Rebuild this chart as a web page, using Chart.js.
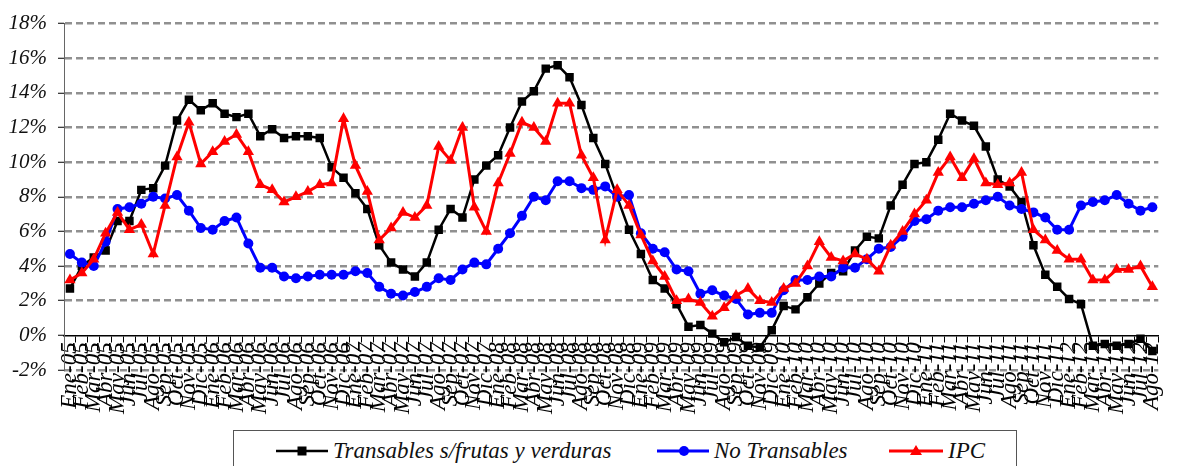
<!DOCTYPE html>
<html>
<head>
<meta charset="utf-8">
<script src="https://cdn.jsdelivr.net/npm/chart.js@4.4.0/dist/chart.umd.min.js"></script>
<style>
  html, body { margin: 0; padding: 0; background: #fff; overflow: hidden; }
  #wrap { position: relative; width: 1181px; height: 466px; }
  #legend {
    position: absolute; left: 233px; top: 430px; width: 782px; height: 60px;
    border: 1.5px solid #555; background: #fff;
    font: italic 23px "Liberation Serif", serif; color: #111;
  }
  .item { position: absolute; top: 4px; height: 32px; display: flex; align-items: center; }
  .item span { margin-left: 5px; white-space: nowrap; }
</style>
</head>
<body>
<div id="wrap">
  <canvas id="chart"></canvas>
  <div id="legend">
    <div class="item" style="left:42px">
      <svg width="52" height="20"><line x1="0" y1="10" x2="52" y2="10" stroke="#000" stroke-width="2.5"/><rect x="21.5" y="5.5" width="9" height="9" fill="#000"/></svg>
      <span>Transables s/frutas y verduras</span>
    </div>
    <div class="item" style="left:423px">
      <svg width="52" height="20"><line x1="0" y1="10" x2="52" y2="10" stroke="#0000ff" stroke-width="3"/><circle cx="27" cy="10" r="5" fill="#0000ff"/></svg>
      <span>No Transables</span>
    </div>
    <div class="item" style="left:655px">
      <svg width="54" height="20"><line x1="0" y1="10" x2="54" y2="10" stroke="#ff0000" stroke-width="3"/><polygon points="27,4 33,14 21,14" fill="#ff0000"/></svg>
      <span>IPC</span>
    </div>
  </div>
</div>
<script>
// meses Ene-05 .. Ago-12
const months = ['Ene','Feb','Mar','Abr','May','Jun','Jul','Ago','Sep','Oct','Nov','Dic'];
const years = ['05','06','07','08','09','10','11','12'];
const lastYearMonths = 8;

const categories = [];
years.forEach((y, k) => {
  months.forEach((m, j) => {
    if (k < years.length - 1 || j < lastYearMonths) categories.push(m + '-' + y);
  });
});

const transables = [2.7, 4.0, 4.5, 4.9, 6.6, 6.6, 8.4, 8.5, 9.8, 12.4,
  13.6, 13.0, 13.4, 12.8, 12.6, 12.8, 11.5, 11.9, 11.4, 11.5,
  11.5, 11.4, 9.7, 9.1, 8.2, 7.3, 5.2, 4.2, 3.8, 3.4,
  4.2, 6.1, 7.3, 6.8, 9.0, 9.8, 10.4, 12.0, 13.5, 14.1,
  15.4, 15.6, 14.9, 13.3, 11.4, 9.9, 8.0, 6.1, 4.7, 3.2,
  2.7, 1.8, 0.5, 0.6, 0.1, -0.4, -0.1, -0.6, -0.7, 0.3,
  1.7, 1.5, 2.2, 3.0, 3.6, 3.7, 4.9, 5.7, 5.6, 7.5,
  8.7, 9.9, 10.0, 11.3, 12.8, 12.4, 12.1, 10.9, 9.0, 8.6,
  7.7, 5.2, 3.5, 2.8, 2.1, 1.8, -0.6, -0.5, -0.6, -0.5,
  -0.2, -0.9];

const noTransables = [4.7, 4.2, 4.0, 5.4, 7.3, 7.4, 7.6, 8.0, 7.9, 8.1,
  7.2, 6.2, 6.1, 6.6, 6.8, 5.3, 3.9, 3.9, 3.4, 3.3,
  3.4, 3.5, 3.5, 3.5, 3.7, 3.6, 2.8, 2.4, 2.3, 2.5,
  2.8, 3.3, 3.2, 3.8, 4.2, 4.1, 5.0, 5.9, 6.9, 8.0,
  7.8, 8.9, 8.9, 8.5, 8.4, 8.6, 8.0, 8.1, 5.9, 5.0,
  4.8, 3.8, 3.7, 2.4, 2.6, 2.3, 2.1, 1.2, 1.3, 1.3,
  2.6, 3.2, 3.2, 3.4, 3.4, 3.9, 3.9, 4.4, 5.0, 5.1,
  5.7, 6.6, 6.7, 7.2, 7.4, 7.4, 7.6, 7.8, 8.0, 7.5,
  7.3, 7.1, 6.8, 6.1, 6.1, 7.5, 7.7, 7.8, 8.1, 7.6,
  7.2, 7.4];

const ipc = [3.2, 3.6, 4.4, 5.9, 7.1, 6.1, 6.4, 4.7, 7.5, 10.3,
  12.3, 9.9, 10.6, 11.2, 11.6, 10.6, 8.7, 8.4, 7.7, 8.0,
  8.3, 8.7, 8.8, 12.5, 9.8, 8.3, 5.5, 6.2, 7.1, 6.8,
  7.5, 10.9, 10.1, 12.0, 7.4, 6.0, 8.8, 10.5, 12.3, 12.0,
  11.2, 13.4, 13.4, 10.4, 9.1, 5.5, 8.4, 7.5, 5.8, 4.3,
  3.4, 2.0, 2.1, 1.9, 1.1, 1.6, 2.3, 2.7, 2.0, 1.9,
  2.7, 3.0, 4.0, 5.4, 4.5, 4.3, 4.7, 4.4, 3.7, 5.2,
  6.0, 7.0, 7.8, 9.4, 10.3, 9.1, 10.2, 8.8, 8.7, 8.8,
  9.4, 6.1, 5.5, 4.9, 4.4, 4.4, 3.2, 3.2, 3.8, 3.8,
  4.0, 2.8];

const yMin = -2, yMax = 18, yStep = 2;

const labelFont = { family: '"Liberation Serif", serif', style: 'italic', size: 21 };

new Chart(document.getElementById('chart'), {
  type: 'line',
  data: {
    labels: categories,
    datasets: [
      {
        label: 'Transables s/frutas y verduras',
        data: transables,
        borderColor: '#000', backgroundColor: '#000',
        borderWidth: 2.5, pointStyle: 'rect', pointRadius: 6, pointBorderWidth: 0,
        order: 3
      },
      {
        label: 'No Transables',
        data: noTransables,
        borderColor: '#0000ff', backgroundColor: '#0000ff',
        borderWidth: 3, pointStyle: 'circle', pointRadius: 5, pointBorderWidth: 0,
        order: 2
      },
      {
        label: 'IPC',
        data: ipc,
        borderColor: '#ff0000', backgroundColor: '#ff0000',
        borderWidth: 3, pointStyle: 'triangle', pointRadius: 6.5, pointBorderWidth: 0,
        order: 1
      }
    ]
  },
  options: {
    responsive: true, maintainAspectRatio: false,
    animation: false,
    layout: { padding: { top: 22, right: 0, left: 0, bottom: 96 } },
    elements: { line: { tension: 0 } },
    plugins: { legend: { display: false }, tooltip: { enabled: false } },
    scales: {
      x: {
        type: 'category',
        position: { y: 0 },
        offset: true,
        grid: { display: true, offset: true, drawOnChartArea: false, drawTicks: true, tickLength: 6, tickColor: '#000', tickWidth: 1 },
        border: { display: true, color: '#000', width: 1.5 },
        ticks: { autoSkip: false, maxRotation: 90, minRotation: 90, padding: 1, color: '#000',
          font: { family: '"Liberation Serif", serif', style: 'italic', size: 23 } }
      },
      y: {
        min: yMin, max: yMax,
        ticks: { stepSize: yStep, callback: v => v + '%', padding: 11, color: '#111', font: labelFont },
        grid: { color: c => (c.tick && c.tick.value === 0) ? 'rgba(0,0,0,0)' : '#909090',
          lineWidth: 2.5, tickColor: '#000', tickLength: 6, tickWidth: 1, tickBorderDash: [] },
        border: { display: true, color: '#666', width: 1, dash: [7, 4] },
        afterFit: s => { s.width = 64; }
      }
    }
  }
});
</script>
</body>
</html>
